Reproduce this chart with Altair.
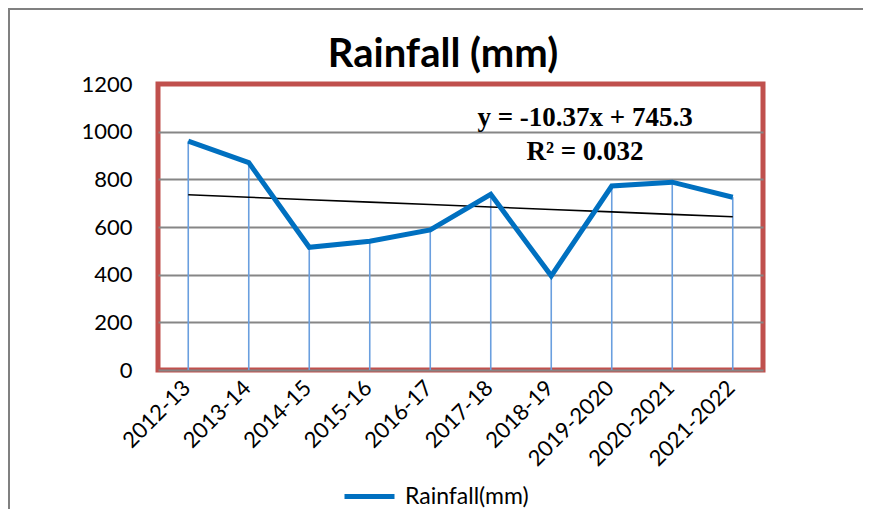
import altair as alt
import pandas as pd
import numpy as np

years = ["2012-13", "2013-14", "2014-15", "2015-16", "2016-17", "2017-18",
         "2018-19", "2019-2020", "2020-2021", "2021-2022"]
rainfall = [960, 870, 515, 540, 588, 737, 395, 772, 788, 725]
y_ticks = [0, 200, 400, 600, 800, 1000, 1200]
series_name = "Rainfall(mm)"
title_text = "Rainfall (mm)"
eq_line1 = "y = -10.37x + 745.3"
eq_line2 = "R² = 0.032"

df = pd.DataFrame({"year": years, "rain": rainfall, "series": [series_name] * len(years)})
idx = np.arange(1, len(years) + 1)
slope, intercept = np.polyfit(idx, rainfall, 1)
df["trend"] = slope * idx + intercept

FONT = "Lato"
W, H = 605, 286

xenc = alt.X("year:N", sort=years, title=None,
             scale=alt.Scale(type="point", padding=0.5),
             axis=alt.Axis(labelAngle=-45, labelAlign="right", labelBaseline="middle",
                           labelFontSize=22, labelFont=FONT, labelColor="black",
                           labelPadding=14, labelOffset=-2, ticks=False, domain=False,
                           grid=False))
yscale = alt.Scale(domain=[0, 1200], nice=False)
yaxis = alt.Axis(values=y_ticks, format="d", labelFontSize=22, labelFont=FONT,
                 labelColor="black", labelPadding=26, ticks=False, domain=False, grid=True,
                 gridColor={"condition": {"test": "datum.value >= 1200", "value": "transparent"},
                            "value": "#868686"},
                 gridWidth=2)

base = alt.Chart(df)

drops = base.mark_rule(color="#6a9fdf", strokeWidth=1.6).encode(
    x=xenc,
    y=alt.Y("rain:Q", scale=yscale, axis=yaxis, title=None),
    y2=alt.Y2(datum=0),
)

trend = base.mark_line(color="black", strokeWidth=1.6).encode(
    x=xenc,
    y=alt.Y("trend:Q", scale=yscale, axis=yaxis, title=None),
)

main = base.mark_line(strokeWidth=5).encode(
    x=xenc,
    y=alt.Y("rain:Q", scale=yscale, axis=yaxis, title=None),
    color=alt.Color("series:N", scale=alt.Scale(range=["#0070C0"]),
                    legend=alt.Legend(title=None, orient="none", legendX=184, legendY=385,
                                      symbolType="stroke", symbolSize=2500,
                                      symbolStrokeWidth=5, labelFontSize=23,
                                      labelFont=FONT, labelColor="black", padding=0,
                                      labelOffset=8)),
)

eq_df = pd.DataFrame({"t": [eq_line1, eq_line2], "yy": [34, 68]})
eq = alt.Chart(eq_df).mark_text(font="Liberation Serif", fontWeight="bold", fontSize=27,
                                 color="black", align="center", baseline="middle").encode(
    text="t:N",
    x=alt.value(427),
    y=alt.Y("yy:Q", scale=None),
)

title_df = pd.DataFrame({"t": [title_text]})
title = alt.Chart(title_df).mark_text(font=FONT, fontWeight="bold", fontSize=40,
                                       color="black", align="center", baseline="middle").encode(
    text="t:N", x=alt.value(285), y=alt.value(-29))

one = pd.DataFrame({"a": [0]})
border_top = alt.Chart(one).mark_rule(color="#808080", strokeWidth=2).encode(
    x=alt.value(-150), x2=alt.value(720), y=alt.value(-75))
border_left = alt.Chart(one).mark_rule(color="#808080", strokeWidth=2).encode(
    x=alt.value(-149), y=alt.value(-76), y2=alt.value(440))

chart = alt.layer(drops, trend, main, eq, title, border_top, border_left).properties(
    width=W, height=H,
    padding={"left": 150, "top": 76, "right": 100, "bottom": 139},
    autosize="none",
).configure(background="white").configure_view(stroke="#C0504D", strokeWidth=5)

chart.save("out.html", embed_options={"renderer": "svg", "actions": False})
